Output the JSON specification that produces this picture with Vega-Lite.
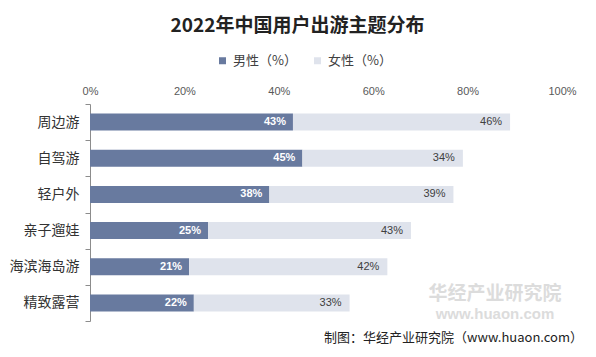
{
  "$schema": "https://vega.github.io/schema/vega-lite/v6.json",
  "width": 472,
  "height": 217,
  "autosize": {"type": "none"},
  "padding": {"left": 90, "top": 104, "right": 34, "bottom": 36},
  "background": "white",
  "config": {"view": {"stroke": null}, "font": "Noto Sans CJK SC"},
  "title": {"text": "制图：华经产业研究院（www.huaon.com）", "orient": "bottom", "anchor": "end", "frame": "group", "dx": 21, "offset": 10, "fontSize": 13, "fontWeight": "normal", "color": "#222222"},
  "layer": [
    {
      "data": {"values": [
        {"category": "周边游", "gender": "男性（%）", "share": 0.43},
        {"category": "周边游", "gender": "女性（%）", "share": 0.46},
        {"category": "自驾游", "gender": "男性（%）", "share": 0.45},
        {"category": "自驾游", "gender": "女性（%）", "share": 0.34},
        {"category": "轻户外", "gender": "男性（%）", "share": 0.38},
        {"category": "轻户外", "gender": "女性（%）", "share": 0.39},
        {"category": "亲子遛娃", "gender": "男性（%）", "share": 0.25},
        {"category": "亲子遛娃", "gender": "女性（%）", "share": 0.43},
        {"category": "海滨海岛游", "gender": "男性（%）", "share": 0.21},
        {"category": "海滨海岛游", "gender": "女性（%）", "share": 0.42},
        {"category": "精致露营", "gender": "男性（%）", "share": 0.22},
        {"category": "精致露营", "gender": "女性（%）", "share": 0.33}
      ]},
      "transform": [{"stack": "share", "groupby": ["category"], "sort": [{"field": "gender", "order": "descending"}], "as": ["v0", "v1"]}],
      "encoding": {
        "y": {"field": "category", "type": "nominal", "sort": ["周边游", "自驾游", "轻户外", "亲子遛娃", "海滨海岛游", "精致露营"], "scale": {"paddingInner": 0, "paddingOuter": 0},
          "axis": {"title": null, "domainColor": "#8c8c8c", "tickColor": "#8c8c8c", "tickSize": 5, "tickBand": "extent", "labelFontSize": 14, "labelColor": "#333333", "labelPadding": 6}}
      },
      "layer": [
        {
          "mark": {"type": "bar", "size": 17},
          "encoding": {
            "x": {"field": "v0", "type": "quantitative", "scale": {"domain": [0, 1]},
              "axis": {"orient": "top", "domain": false, "ticks": false, "grid": false, "format": ".0%", "values": [0, 0.2, 0.4, 0.6, 0.8, 1], "labelFlush": false, "labelFontSize": 11, "labelColor": "#595959", "labelPadding": 8, "labelFont": "Liberation Sans",
                "title": "2022年中国用户出游主题分布", "titleX": 207, "titleY": -79, "titleAlign": "center", "titleBaseline": "middle", "titleFontSize": 19, "titleFontWeight": "bold", "titleColor": "#222222"}},
            "x2": {"field": "v1"},
            "color": {"field": "gender", "type": "nominal", "scale": {"domain": ["男性（%）", "女性（%）"], "range": ["#687a9f", "#dfe3ec"]},
              "legend": {"orient": "none", "legendX": 126, "legendY": -50, "direction": "horizontal", "title": null, "symbolType": "square", "symbolSize": 49, "labelFontSize": 13, "labelColor": "#404040", "columnPadding": 14, "symbolStrokeWidth": 0}}
          }
        },
        {
          "transform": [{"filter": "datum.gender === '男性（%）'"}],
          "mark": {"type": "text", "align": "right", "baseline": "middle", "dx": -7, "fontSize": 11, "fontWeight": "bold", "color": "white", "font": "Liberation Sans"},
          "encoding": {"x": {"field": "v1", "type": "quantitative"}, "text": {"field": "share", "format": ".0%"}}
        },
        {
          "transform": [{"filter": "datum.gender === '女性（%）'"}],
          "mark": {"type": "text", "align": "right", "baseline": "middle", "dx": -8, "fontSize": 11, "color": "#404040", "font": "Liberation Sans"},
          "encoding": {"x": {"field": "v1", "type": "quantitative"}, "text": {"field": "share", "format": ".0%"}}
        }
      ]
    },
    {
      "data": {"values": [{"wm": "华经产业研究院"}]},
      "mark": {"type": "text", "align": "center", "baseline": "middle", "dy": -9, "fontSize": 19, "fontWeight": "bold", "color": "#dcdcdc"},
      "encoding": {"x": {"datum": 0.858, "type": "quantitative"}, "y": {"datum": "精致露营", "type": "nominal"}, "text": {"field": "wm"}}
    },
    {
      "data": {"values": [{"wm": "www.huaon.com"}]},
      "mark": {"type": "text", "align": "center", "baseline": "middle", "dy": 11, "fontSize": 15, "fontWeight": "bold", "color": "#dcdcdc", "font": "Liberation Sans"},
      "encoding": {"x": {"datum": 0.858, "type": "quantitative"}, "y": {"datum": "精致露营", "type": "nominal"}, "text": {"field": "wm"}}
    }
  ]
}
